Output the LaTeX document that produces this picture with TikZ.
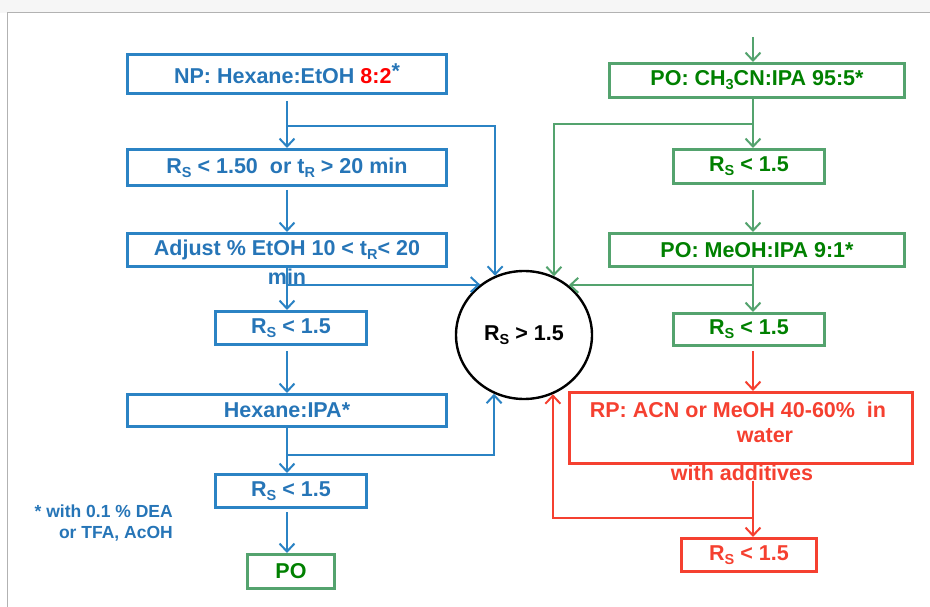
\documentclass[tikz,border=0pt]{standalone}
\usepackage{fontspec}
\setmainfont{Liberation Sans}
\usetikzlibrary{arrows.meta,shapes.geometric}
\definecolor{blueline}{RGB}{43,131,196}
\definecolor{bluetext}{RGB}{38,117,183}
\definecolor{greenline}{RGB}{84,163,110}
\definecolor{greentext}{RGB}{0,128,0}
\definecolor{redline}{RGB}{245,64,48}
\definecolor{puredd}{RGB}{255,0,0}
\newcommand\subs[1]{\raisebox{-0.35ex}{\fontsize{14.5}{14.5}\selectfont #1}}
\begin{document}
\begin{tikzpicture}[x=1pt,y=-1pt,
  box/.style={draw, line width=3pt, inner sep=0pt, font=\bfseries\fontsize{21.5}{24}\selectfont},
  bbox/.style={box, draw=blueline, text=bluetext},
  gbox/.style={box, draw=greenline, text=greentext},
  rbox/.style={box, draw=redline, text=redline},
  txt/.style={inner sep=0pt, font=\bfseries\fontsize{21.5}{24}\selectfont},
  tip/.style={-{Straight Barb[length=8pt,width=15pt]}},
  bcon/.style={draw=blueline, line width=2pt},
  gcon/.style={draw=greenline, line width=2pt},
  rcon/.style={draw=redline, line width=2pt}]
\useasboundingbox (0,0) rectangle (930,607);
% frame of the page
\fill[gray!7] (0,0) rectangle (930,13);
\draw[gray!60, line width=1pt] (7,13) -- (930,13);
\draw[gray!60, line width=1pt] (7,13) -- (7,607);

\coordinate (bx) at (287,0);
\coordinate (gx) at (753,0);

% left (blue) column
\node[bbox, minimum width=319pt, minimum height=39pt] (np) at (287,74) {NP: Hexane:EtOH \textcolor{puredd}{8:2}\raisebox{0.45ex}{*}};
\node[bbox, minimum width=319pt, minimum height=36pt] (b2) at (287,167.5) {R\subs{S} < 1.50\ \ or t\subs{R} > 20 min};
\node[bbox, minimum width=319pt, minimum height=33pt] (b3) at (287,250) {Adjust \% EtOH 10 < t\subs{R}< 20};
\node[txt, text=bluetext] (min) at (287,277) {min};
\node[bbox, minimum width=151pt, minimum height=33pt] (b4) at (291,328) {R\subs{S} < 1.5};
\node[bbox, minimum width=319pt, minimum height=32pt] (b5) at (287,410.5) {Hexane:IPA*};
\node[bbox, minimum width=151pt, minimum height=33pt] (b6) at (291,491) {R\subs{S} < 1.5};
\node[gbox, minimum width=87pt, minimum height=34pt] (po) at (291,571.5) {PO};
\node[inner sep=0pt, text=bluetext, align=right, anchor=east, font=\bfseries\fontsize{17.5}{21}\selectfont] (note) at (173,523) {* with 0.1 \% DEA\\or TFA, AcOH};

% centre
\node[ellipse, draw=black, line width=2.4pt, minimum width=136pt, minimum height=128pt, inner sep=0pt, font=\bfseries\fontsize{21.5}{24}\selectfont] (circ) at (524,335) {R\subs{S} > 1.5};

% right (green / red) column
\node[gbox, minimum width=295pt, minimum height=34pt] (g1) at (757,80.5) {PO: CH\subs{3}CN:IPA 95:5*};
\node[gbox, minimum width=151pt, minimum height=34pt] (g2) at (749,166.5) {R\subs{S} < 1.5};
\node[gbox, minimum width=295pt, minimum height=33pt] (g3) at (757,250) {PO: MeOH:IPA 9:1*};
\node[gbox, minimum width=151pt, minimum height=32pt] (g4) at (749,329.5) {R\subs{S} < 1.5};
\node[rbox, minimum width=343pt, minimum height=71pt] (rp) at (741,428) {};
\node[txt, text=redline] (rl1) at (738,410) {RP: ACN or MeOH 40-60\%\ \ in};
\node[txt, text=redline] (rl2) at (765,436) {water};
\node[txt, text=redline] (wa) at (742,473) {with additives};
\node[rbox, minimum width=135pt, minimum height=33pt] (r5) at (749,555) {R\subs{S} < 1.5};
\coordinate (gtop) at (753,37);

% blue connectors
\coordinate (jb1) at (287,126);
\coordinate (jb2) at (bx |- circ.131.3);
\coordinate (jb3) at (287,455);
\draw[bcon, tip, shorten <=6pt] (np.south -| bx) -- (b2.north -| bx);
\draw[bcon, tip] (jb1) -| (circ.116.2);
\draw[bcon, tip, shorten <=3pt] (b2.south -| bx) -- (b3.north -| bx);
\draw[bcon, tip] (b3.south -| bx) -- (b4.north -| bx);
\draw[bcon, tip] (jb2) -- (circ.131.3);
\draw[bcon, tip, shorten <=5pt] (b4.south -| bx) -- (b5.north -| bx);
\draw[bcon, tip] (b5.south -| bx) -- (b6.north -| bx);
\draw[bcon, tip] (jb3) -| (circ.243.8);
\draw[bcon, tip, shorten <=3pt] (b6.south -| bx) -- (po.north -| bx);

% green connectors
\coordinate (jg1) at (753,124);
\coordinate (jg2) at (gx |- circ.48.7);
\coordinate (jr) at (753,518);
\draw[gcon, tip] (gtop) -- (g1.north -| gx);
\draw[gcon, tip] (g1.south -| gx) -- (g2.north -| gx);
\draw[gcon, tip] (jg1) -| (circ.63.8);
\draw[gcon, tip, shorten <=5pt] (g2.south -| gx) -- (g3.north -| gx);
\draw[gcon, tip] (g3.south -| gx) -- (g4.north -| gx);
\draw[gcon, tip] (jg2) -- (circ.48.7);

% red connectors
\draw[rcon, tip, shorten <=4pt] (g4.south -| gx) -- (rp.north -| gx);
\draw[rcon, tip] (wa.base -| gx) -- (r5.north -| gx);
\draw[rcon, tip] (jr) -| (circ.296.2);
\end{tikzpicture}
\end{document}
